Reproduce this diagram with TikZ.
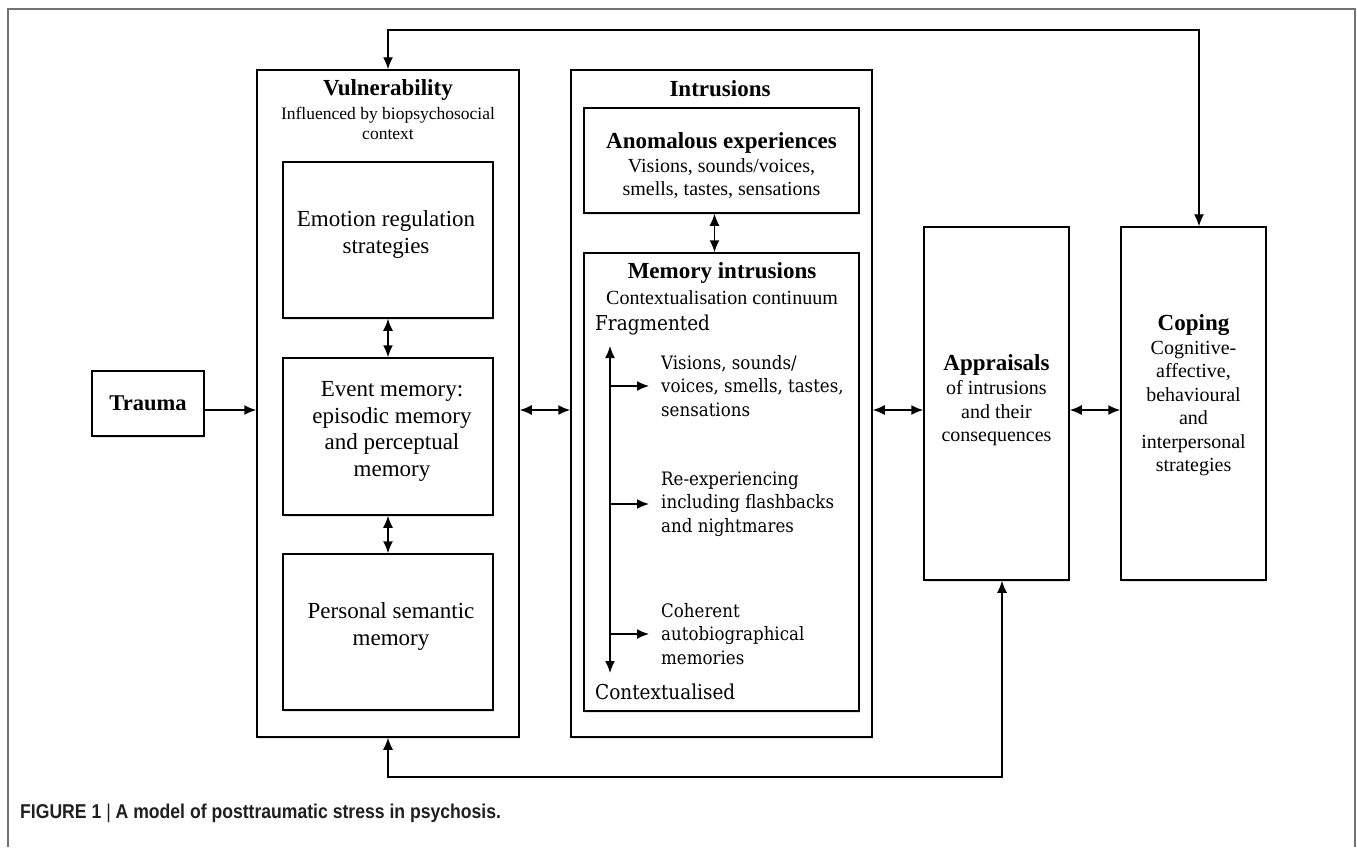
\documentclass[tikz,border=0pt]{standalone}
\usepackage{fontspec}
\setmainfont{Liberation Serif}
\newfontfamily\contfont{DejaVu Serif Condensed}
\newfontfamily\capfont[FakeStretch=0.88]{Liberation Sans}
\usetikzlibrary{arrows.meta,shadows}

\begin{document}
\begin{tikzpicture}[x=1pt,y=-1pt,
  box/.style={draw, line width=1.5pt, fill=white, inner sep=0pt,
    drop shadow={shadow xshift=1.2pt, shadow yshift=-1.6pt, opacity=0.22, fill=black!50}},
  title/.style={font=\fontsize{23}{26}\selectfont\bfseries, inner sep=0pt},
  big/.style={font=\fontsize{23}{26.5}\selectfont, align=center, inner sep=0pt},
  body/.style={font=\fontsize{20}{23.5}\selectfont, align=center, inner sep=0pt},
  small/.style={font=\fontsize{17.5}{20}\selectfont, align=center, inner sep=0pt},
  cont/.style={font=\contfont\fontsize{18.5}{23.5}\selectfont, align=left, inner sep=0pt, anchor=west},
  contend/.style={font=\contfont\fontsize{20.5}{24}\selectfont, inner sep=0pt, anchor=west},
  arr/.style={line width=1.5pt, -{Latex[length=12pt,width=10pt]}},
  dbl/.style={line width=1.5pt, {Latex[length=12pt,width=10pt]}-{Latex[length=12pt,width=10pt]}},
  loop/.style={line width=1.3pt, {Latex[length=12pt,width=10pt]}-{Latex[length=12pt,width=10pt]}}
]
\useasboundingbox (0,0) rectangle (1357,847);

% page frame, open at the bottom
\draw[black!55, line width=1.2pt] (8,847) -- (8,9) -- (1355,9) -- (1355,847);

% outer column boxes
\node[box, minimum width=262pt, minimum height=667pt] (V) at (388,403.5) {};
\node[box, minimum width=301pt, minimum height=667pt] (I) at (721.5,403.5) {};

% vulnerability column
\node[title] (Vt) at (388,90) {Vulnerability};
\node[small] (Vs) at (388,123) {Influenced by biopsychosocial\\context};
\node[box, minimum width=210pt, minimum height=156pt] (E) at (388,240) {};
\node[box, minimum width=210pt, minimum height=157pt] (M) at (388,436.5) {};
\node[box, minimum width=210pt, minimum height=156pt] (P) at (388,632) {};
\node[big] (Et) at (386,234.5) {Emotion regulation\\strategies};
\node[big] (Mt) at (392,431.5) {Event memory:\\episodic memory\\and perceptual\\memory};
\node[big] (Pt) at (391,626.5) {Personal semantic\\memory};

% trauma
\node[box, minimum width=112pt, minimum height=65pt] (T) at (148,403.5) {};
\node[title, font=\fontsize{22.5}{26}\selectfont\bfseries] (Tt) at (148,403) {Trauma};

% intrusions column
\node[title] (It) at (720,89) {Intrusions};
\node[box, minimum width=275pt, minimum height=105pt] (A) at (721.5,160.5) {};
\node[title] (At) at (721.5,143) {Anomalous experiences};
\node[body] (As) at (721.5,178.5) {Visions, sounds/voices,\\smells, tastes, sensations};
\node[box, minimum width=275pt, minimum height=458pt] (MI) at (721.5,482) {};
\node[title] (MIt) at (722,273) {Memory intrusions};
\node[body] (MIs) at (722,297.5) {Contextualisation continuum};
\node[contend] (frag) at (595,325) {Fragmented};
\node[contend] (ctx) at (595,692) {Contextualised};

% contextualisation continuum and its three kinds of memory
\coordinate (cTop) at (610,346);
\coordinate (cBot) at (610,673);
\draw[dbl] (cTop) -- (cBot);
\node[cont] (b1) at (661,386) {Visions, sounds/\\voices, smells, tastes,\\sensations};
\node[cont] (b2) at (661,504) {Re-experiencing\\including flashbacks\\and nightmares};
\node[cont] (b3) at (661,634) {Coherent\\autobiographical\\memories};
\draw[arr] (cTop |- b1.west) -- ([xshift=-12pt]b1.west);
\draw[arr] (cTop |- b2.west) -- ([xshift=-12pt]b2.west);
\draw[arr] (cTop |- b3.west) -- ([xshift=-12pt]b3.west);

% appraisals and coping
\node[box, minimum width=145pt, minimum height=353pt] (AP) at (996.5,403.5) {};
\node[title] (APt) at (996.5,365) {Appraisals};
\node[body] (APs) at (996.5,413.5) {of intrusions\\and their\\consequences};
\node[box, minimum width=145pt, minimum height=353pt] (C) at (1193.5,403.5) {};
\node[title] (Ct) at (1193.5,325) {Coping};
\node[body] (Cs) at (1193.5,408.5) {Cognitive-\\affective,\\behavioural\\and\\interpersonal\\strategies};

% connectors
\coordinate (row) at (0,410);
\coordinate (topY) at (0,30);
\coordinate (botY) at (0,777);
\coordinate (cIn) at ([xshift=5.5pt]C.north);
\coordinate (apIn) at ([xshift=5.5pt]AP.south);
\coordinate (aOut) at ([xshift=-7pt]A.south);
\coordinate (miIn) at ([xshift=-7pt]MI.north);

\draw[arr] (T.east |- row) -- (V.west |- row);
\draw[dbl] (V.east |- row) -- (I.west |- row);
\draw[dbl] (I.east |- row) -- (AP.west |- row);
\draw[dbl] (AP.east |- row) -- (C.west |- row);
\draw[dbl] (E.south) -- (M.north);
\draw[dbl] (M.south) -- (P.north);
\draw[dbl] (aOut) -- (miIn);
\draw[loop] (V.north) -- (V.north |- topY) -- (cIn |- topY) -- (cIn);
\draw[loop] (V.south) -- (V.south |- botY) -- (apIn |- botY) -- (apIn);

% caption
\node[anchor=west, inner sep=0pt, text=black!88,
  font=\capfont\fontsize{20}{22}\selectfont\bfseries] (cap) at (20,813)
  {FIGURE 1 {\mdseries|} A model of posttraumatic stress in psychosis.};
\end{tikzpicture}
\end{document}
